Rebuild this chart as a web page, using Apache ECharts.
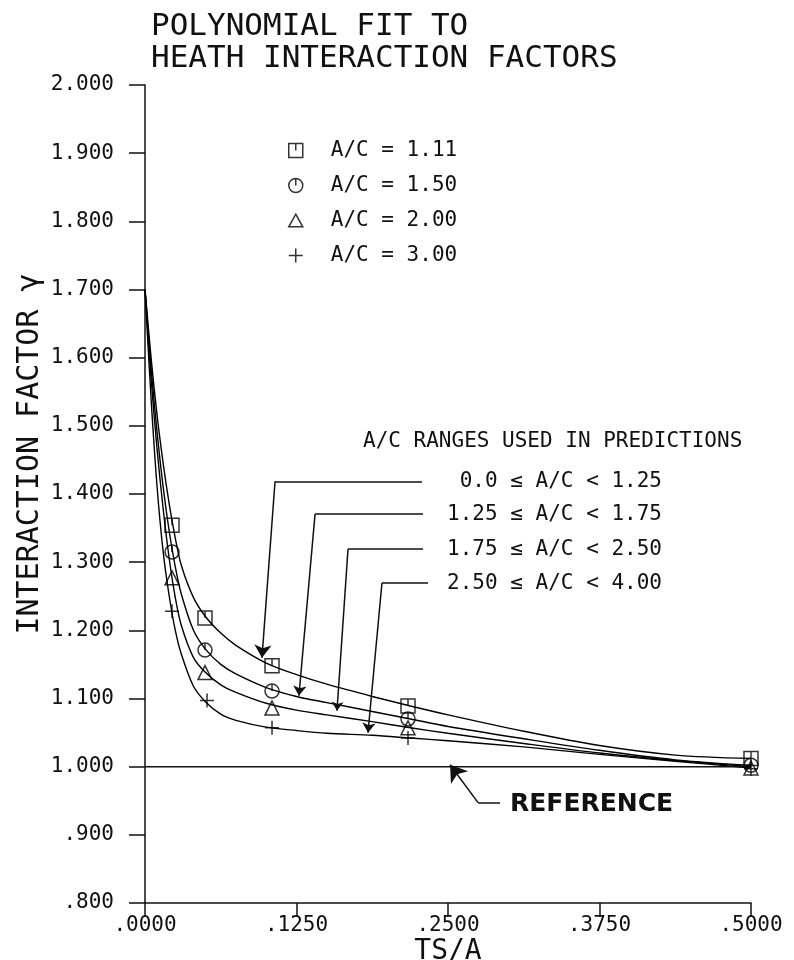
<!DOCTYPE html>
<html>
<head>
<meta charset="utf-8">
<script src="https://cdn.jsdelivr.net/npm/echarts@6/dist/echarts.min.js"></script>
<style>
  html, body { margin: 0; padding: 0; background: #fff; }
  #chart { width: 794px; height: 960px; }
</style>
</head>
<body>
<div id="chart"></div>
<script>
var FONT = '"DejaVu Sans Mono", monospace';

// axis tick labels
var xTickLabels = ['.0000', '.1250', '.2500', '.3750', '.5000'];
var yTickLabels = ['.800', '.900', '1.000', '1.100', '1.200', '1.300', '1.400',
    '1.500', '1.600', '1.700', '1.800', '1.900', '2.000'];

var seriesNames = ['A/C = 1.11', 'A/C = 1.50', 'A/C = 2.00', 'A/C = 3.00'];

// measured points (TS/A, gamma)
var pts_111 = [[0.0223, 1.354], [0.0495, 1.218], [0.1048, 1.148], [0.217, 1.089], [0.5, 1.012]];
var pts_150 = [[0.0223, 1.315], [0.0495, 1.171], [0.1048, 1.111], [0.217, 1.070], [0.5, 1.002]];
var pts_200 = [[0.0223, 1.277], [0.0495, 1.138], [0.1048, 1.086], [0.217, 1.057], [0.5, 0.998]];
var pts_300 = [[0.0223, 1.228], [0.0512, 1.097], [0.1048, 1.057], [0.217, 1.042], [0.5, 0.997]];

// polynomial fit curves
var fitX = [0, 0.005, 0.010, 0.015, 0.020, 0.025, 0.030, 0.040, 0.050, 0.0625, 0.075,
    0.1, 0.125, 0.15, 0.1875, 0.219, 0.25, 0.3125, 0.375, 0.4375, 0.5];
var fit_111 = [1.700, 1.600, 1.515, 1.445, 1.385, 1.335, 1.295, 1.248, 1.220, 1.196, 1.178,
    1.152, 1.135, 1.121, 1.103, 1.089, 1.076, 1.052, 1.031, 1.017, 1.012];
var fit_150 = [1.700, 1.585, 1.490, 1.410, 1.345, 1.293, 1.253, 1.200, 1.172, 1.150, 1.136,
    1.116, 1.103, 1.094, 1.081, 1.070, 1.059, 1.041, 1.024, 1.010, 1.002];
var fit_200 = [1.700, 1.570, 1.465, 1.378, 1.305, 1.248, 1.207, 1.160, 1.138, 1.120, 1.109,
    1.093, 1.083, 1.076, 1.066, 1.057, 1.049, 1.034, 1.020, 1.009, 1.000];
var fit_300 = [1.700, 1.540, 1.410, 1.315, 1.250, 1.200, 1.165, 1.118, 1.095, 1.077, 1.068,
    1.058, 1.053, 1.049, 1.046, 1.042, 1.038, 1.029, 1.018, 1.008, 0.998];

var refLine = [[0, 1.0], [0.5, 1.0]];

// annotation leaders (data coords): horizontal part, then arrow part
var rangeLabels = ['0.0 \u2264 A/C < 1.25', '1.25 \u2264 A/C < 1.75', '1.75 \u2264 A/C < 2.50', '2.50 \u2264 A/C < 4.00'];
var leaderFlat = [
    [[0.2285, 1.4187], [0.1073, 1.4187]],
    [[0.2294, 1.3704], [0.1403, 1.3704]],
    [[0.2294, 1.3192], [0.1675, 1.3192]],
    [[0.2335, 1.2694], [0.1955, 1.2694]],
    [[0.2929, 0.9473], [0.2748, 0.9473]]
];
var leaderArrow = [
    [[0.1073, 1.4187], [0.0965, 1.1596]],
    [[0.1403, 1.3704], [0.127, 1.104]],
    [[0.1675, 1.3192], [0.1584, 1.082]],
    [[0.1955, 1.2694], [0.184, 1.0498]],
    [[0.2748, 0.9473], [0.2517, 1.0029]]
];
var arrowSizes = [13, 10, 9, 10, 16];

var symSquare = 'path://M0,0 L10,0 L10,10 L0,10 Z M5,0 L5,5';
var symCircle = 'path://M0,5 A5,5 0 1,1 10,5 A5,5 0 1,1 0,5 Z M5,0 L5,5';
var symTri = 'path://M5,0 L10,9 L0,9 Z';
var symPlus = 'path://M0,5 L10,5 M5,0 L5,10';

var chart = echarts.init(document.getElementById('chart'));

var markStyle = { color: 'rgba(0,0,0,0)', borderColor: '#000', borderWidth: 1.5 };

function fitSeries(name, ys) {
    return {
        name: name, type: 'line', smooth: 0.3,
        data: fitX.map(function (x, i) { return [x, ys[i]]; }),
        showSymbol: false, symbol: 'none', silent: true,
        lineStyle: { color: '#000', width: 1.4 }, z: 2
    };
}
function pointSeries(name, data, sym) {
    return {
        name: name, type: 'scatter', data: data, symbol: sym, symbolSize: 14,
        itemStyle: markStyle, z: 5
    };
}

var option = {
    backgroundColor: '#fff',
    animation: false,
    title: {
        text: 'POLYNOMIAL FIT TO\nHEATH INTERACTION FACTORS',
        left: 146, top: 6,
        textStyle: { fontFamily: FONT, fontWeight: 'normal', fontSize: 31, lineHeight: 32, color: '#111' }
    },
    grid: { left: 145, right: 43, top: 85, bottom: 57, outerBoundsMode: 'none', containLabel: false },
    legend: {
        orient: 'vertical', left: 283, top: 135, itemWidth: 14, itemHeight: 14, itemGap: 14,
        data: seriesNames,
        itemStyle: markStyle,
        textStyle: { fontFamily: FONT, fontSize: 21, color: '#111', padding: [0, 0, 0, 23] }
    },
    xAxis: {
        type: 'value', min: 0, max: 0.5, interval: 0.125,
        name: 'TS/A', nameLocation: 'middle', nameGap: 35, nameMoveOverlap: false,
        nameTextStyle: { fontFamily: FONT, fontSize: 28, color: '#111' },
        axisLine: { lineStyle: { color: '#111', width: 1.5 } },
        axisTick: { length: 14, lineStyle: { color: '#111', width: 1.5 } },
        axisLabel: {
            margin: 12, fontFamily: FONT, fontSize: 21, color: '#111',
            formatter: function (v, i) { return xTickLabels[i]; }
        },
        splitLine: { show: false }
    },
    yAxis: {
        type: 'value', min: 0.8, max: 2.0, interval: 0.1,
        name: 'INTERACTION FACTOR \u03b3', nameLocation: 'middle', nameGap: 100, nameRotate: 90,
        nameMoveOverlap: false,
        nameTextStyle: { fontFamily: FONT, fontSize: 30, color: '#111', padding: [0, 0, 0, 80] },
        axisLine: { lineStyle: { color: '#111', width: 1.5 } },
        axisTick: { length: 16, lineStyle: { color: '#111', width: 1.5 } },
        axisLabel: {
            margin: 31, fontFamily: FONT, fontSize: 21, color: '#111',
            formatter: function (v, i) { return yTickLabels[i]; }
        },
        splitLine: { show: false }
    },
    graphic: [
        {
            type: 'text', left: 363, top: 431,
            style: { text: 'A/C RANGES USED IN PREDICTIONS', font: '21px ' + FONT, fill: '#111' }
        }
    ].concat(rangeLabels.map(function (t, i) {
        return {
            type: 'text', right: 132, top: [471, 504, 539, 573][i],
            style: { text: t, font: '21px ' + FONT, fill: '#111' }
        };
    })).concat([{
        type: 'text', left: 510, top: 792,
        style: { text: 'REFERENCE', font: 'bold 25px "DejaVu Sans", sans-serif', fill: '#111' }
    }]),
    series: [
        fitSeries('fit111', fit_111),
        fitSeries('fit150', fit_150),
        fitSeries('fit200', fit_200),
        fitSeries('fit300', fit_300),
        {
            name: 'ref', type: 'line', data: refLine, showSymbol: false, symbol: 'none', silent: true,
            lineStyle: { color: '#111', width: 1.5 }, z: 2
        },
        pointSeries(seriesNames[0], pts_111, symSquare),
        pointSeries(seriesNames[1], pts_150, symCircle),
        pointSeries(seriesNames[2], pts_200, symTri),
        pointSeries(seriesNames[3], pts_300, symPlus),
        {
            name: 'leaderFlat', type: 'lines', coordinateSystem: 'cartesian2d', silent: true,
            symbol: 'none',
            lineStyle: { color: '#111', width: 1.5, opacity: 1 },
            data: leaderFlat.map(function (c) { return { coords: c }; }), z: 3
        },
        {
            name: 'leaderArrow', type: 'lines', coordinateSystem: 'cartesian2d', silent: true,
            symbol: ['none', 'arrow'],
            lineStyle: { color: '#111', width: 1.5, opacity: 1 },
            data: leaderArrow.map(function (c, i) {
                return { coords: c, symbolSize: arrowSizes[i] };
            }), z: 3
        }
    ]
};

chart.setOption(option);
</script>
</body>
</html>
